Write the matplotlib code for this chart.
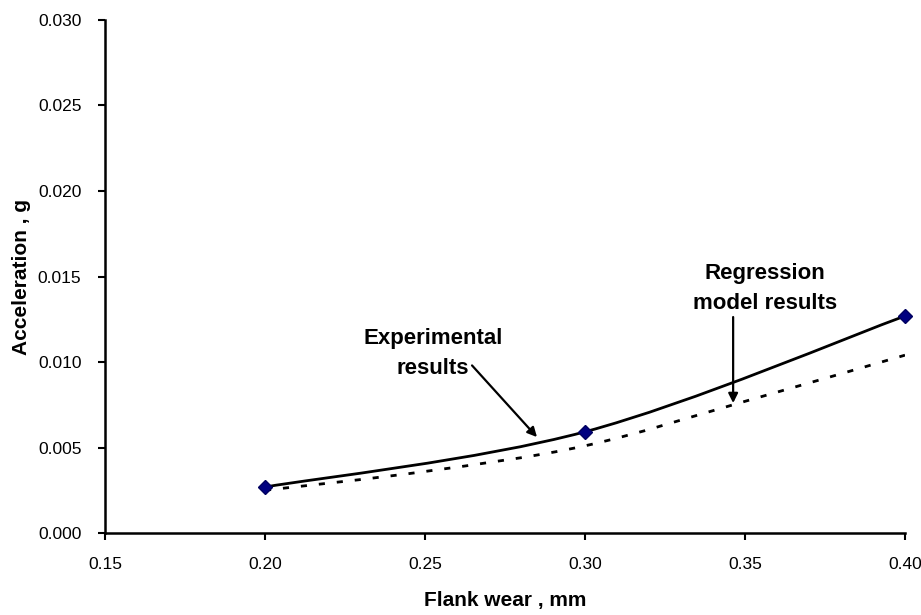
import matplotlib
matplotlib.use("Agg")
import matplotlib.pyplot as plt
import numpy as np
from matplotlib.path import Path
from matplotlib.patches import PathPatch

plt.rcParams["font.family"] = ["Liberation Sans", "DejaVu Sans"]

flank_wear = [0.20, 0.30, 0.40]
experimental = [0.00269, 0.00592, 0.01269]

regression_x = [0.20, 0.25, 0.30, 0.35, 0.40]
regression = [0.0025, 0.0036, 0.0051, 0.0077, 0.0104]

x_ticks = [0.15, 0.20, 0.25, 0.30, 0.35, 0.40]
y_ticks = [0.000, 0.005, 0.010, 0.015, 0.020, 0.025, 0.030]


def smooth_path(xs, ys):
    # Excel-style smoothed line: cubic Bezier segments through the points
    pts = np.column_stack([xs, ys]).astype(float)
    n = len(pts)
    verts = [pts[0]]
    codes = [Path.MOVETO]
    for i in range(n - 1):
        p_prev = pts[i - 1] if i > 0 else pts[i]
        p_next2 = pts[i + 2] if i + 2 < n else pts[i + 1]
        c1 = pts[i] + (pts[i + 1] - p_prev) / 6
        c2 = pts[i + 1] - (p_next2 - pts[i]) / 6
        verts += [c1, c2, pts[i + 1]]
        codes += [Path.CURVE4] * 3
    return Path(verts, codes)


fig = plt.figure(figsize=(9.21, 6.15), dpi=100)
ax = fig.add_axes([0.114, 0.1333, 0.8686, 0.8342])

ax.add_patch(PathPatch(smooth_path(regression_x, regression), fill=False,
                       lw=2, linestyle=(0, (2.2, 4.3)), edgecolor="black",
                       capstyle="butt"))
ax.add_patch(PathPatch(smooth_path(flank_wear, experimental), fill=False,
                       lw=2, edgecolor="black"))
ax.plot(flank_wear, experimental, linestyle="none", marker="D", markersize=7.5,
        markerfacecolor="#000080", markeredgecolor="#000060", zorder=5,
        clip_on=False)

ax.set_xlim(0.15, 0.40)
ax.set_ylim(0.0, 0.030)
ax.set_xticks(x_ticks)
ax.set_yticks(y_ticks)
ax.set_xticklabels([f"{v:.2f}" for v in x_ticks])
ax.set_yticklabels([f"{v:.3f}" for v in y_ticks])
ax.tick_params(direction="out", length=5, width=1.5, labelsize=12.5, pad=12)
ax.tick_params(axis="y", pad=12)

for side in ["top", "right"]:
    ax.spines[side].set_visible(False)
for side in ["left", "bottom"]:
    ax.spines[side].set_linewidth(1.8)

ax.set_xlabel("Flank wear , mm", fontsize=15, fontweight="bold", labelpad=14)
ax.set_ylabel("Acceleration , g", fontsize=15, fontweight="bold", labelpad=5)

arrow = dict(arrowstyle="-|>", lw=1.6, color="black", mutation_scale=14,
             shrinkA=0, shrinkB=0)
ax.annotate("", xy=(0.285, 0.00561), xytext=(0.2647, 0.0098), arrowprops=arrow)
ax.text(0.2525, 0.0105, "Experimental\nresults", ha="center", va="center",
        fontsize=16, fontweight="bold", linespacing=1.6)

ax.annotate("", xy=(0.3463, 0.0076), xytext=(0.3463, 0.01263), arrowprops=arrow)
ax.text(0.3563, 0.0143, "Regression\nmodel results", ha="center",
        va="center", fontsize=16, fontweight="bold", linespacing=1.6)

fig.savefig("out.png", dpi=100)
